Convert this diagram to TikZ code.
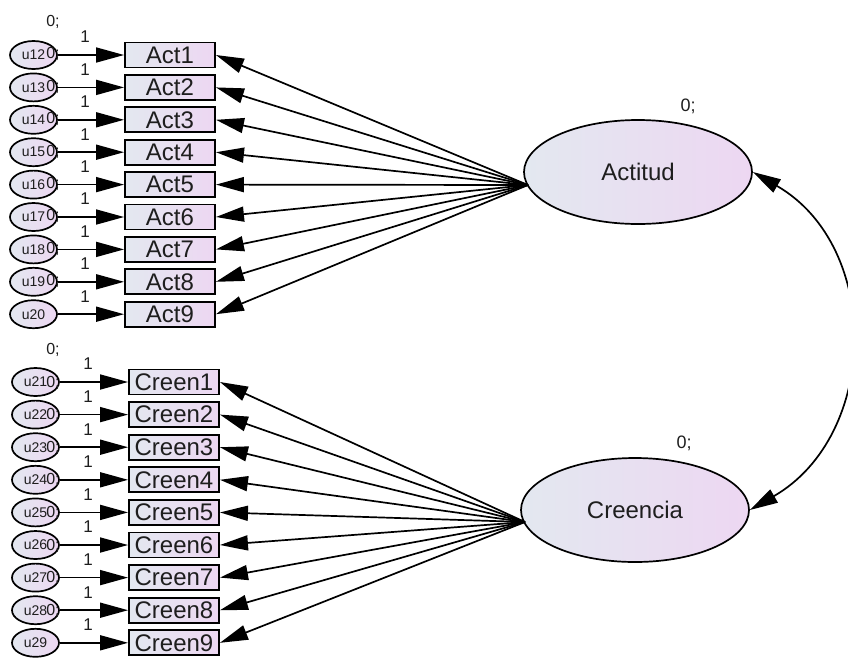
\documentclass[tikz,border=0pt]{standalone}
\usepackage{fontspec}
\setmainfont{Liberation Sans}
\usetikzlibrary{arrows.meta,shapes.geometric,calc}

\definecolor{lftc}{RGB}{227,232,240}
\definecolor{rgtc}{RGB}{237,215,242}
\definecolor{txtc}{RGB}{30,30,30}

\begin{document}
\begin{tikzpicture}[x=1pt,y=1pt,
  txt/.style={text=txtc},
  obsbox/.style={draw, line width=1.9pt, rectangle, minimum width=90pt,
    minimum height=25pt, inner sep=0pt, left color=lftc, right color=rgtc,
    txt, font=\fontsize{24}{24}\selectfont},
  errell/.style={draw, line width=1.7pt, ellipse, minimum width=47pt,
    minimum height=28pt, inner sep=0pt, left color=lftc, right color=rgtc,
    txt, font=\fontsize{14}{14}\selectfont},
  latell/.style={draw, line width=1.7pt, ellipse, minimum width=228pt,
    minimum height=104pt, inner sep=0pt, left color=lftc, right color=rgtc,
    txt, font=\fontsize{24}{24}\selectfont},
  regarrow/.style={line width=1.7pt, -{Triangle[length=28pt,width=15pt]}},
  covarrow/.style={line width=1.7pt,
    {Triangle[length=28pt,width=15pt]}-{Triangle[length=28pt,width=15pt]}},
  onelab/.style={txt, inner sep=0pt, font=\fontsize{17}{17}\selectfont},
  varlab/.style={txt, inner sep=0pt, font=\fontsize{16}{16}\selectfont},
  latvar/.style={txt, inner sep=0pt, font=\fontsize{18}{18}\selectfont},
]
\useasboundingbox (0,0) rectangle (848,-657);

% latent factors
\node[latell] (act) at (638,-172) {Actitud};
\node[latell] (cre) at (635,-510) {Creencia};
\node[latvar] (actv) at (688,-106) {0;};
\node[latvar] (crev) at (684,-443) {0;};

% common origins of the loadings
\coordinate (asrc) at (528,-185);
\coordinate (csrc) at (525,-522);

% attitude indicators with their error terms
\foreach \i in {1,...,9} {
  \pgfmathsetmacro\yy{-(55+32.4*(\i-1))}
  \pgfmathtruncatemacro\uu{11+\i}
  \node[obsbox] (act\i) at (170,\yy) {Act\i};
  \node[errell] (u\uu) at (33.5,\yy) {u\uu};
  \draw[regarrow] (u\uu) -- (act\i);
  \node[onelab] (one\uu) at (85,\yy+18) {1};
  \node[varlab] (var\uu) at (53,\yy+33) {0;};
  \draw[regarrow] (asrc) -- (act\i.east);
}

% belief indicators with their error terms
\foreach \i in {1,...,9} {
  \pgfmathsetmacro\yy{-(382+32.6*(\i-1))}
  \pgfmathtruncatemacro\uu{20+\i}
  \node[obsbox] (cre\i) at (174,\yy) {Creen\i};
  \node[errell] (u\uu) at (35.5,\yy) {u\uu};
  \draw[regarrow] (u\uu) -- (cre\i);
  \node[onelab] (one\uu) at (88,\yy+18) {1};
  \node[varlab] (var\uu) at (53,\yy+32) {0;};
  \draw[regarrow] (csrc) -- (cre\i.east);
}

% covariance between the factors
\draw[covarrow] (act.east) to[out=-30,in=30,looseness=1.13] (cre.east);
\end{tikzpicture}
\end{document}
